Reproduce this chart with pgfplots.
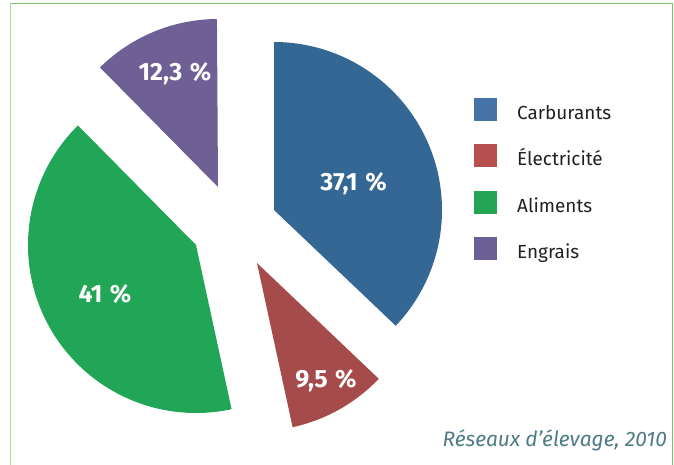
\documentclass[border=0pt]{standalone}
\usepackage{pgfplots}
\pgfplotsset{compat=1.18}
\usepackage{fontspec}
\setmainfont{Fira Sans}
\definecolor{cblue}{HTML}{346794}
\definecolor{cred}{HTML}{A64B4B}
\definecolor{cgreen}{HTML}{21A556}
\definecolor{cpurple}{HTML}{6E5F95}
\definecolor{lblue}{HTML}{4573A7}
\definecolor{lred}{HTML}{B5504F}
\definecolor{lgreen}{HTML}{23A553}
\definecolor{lpurple}{HTML}{6C5F95}
\definecolor{frameA}{HTML}{78C367}
\definecolor{frameB}{HTML}{A8DC92}
\definecolor{srccol}{HTML}{4E7B87}
% slice: color, vertex x, vertex y, cumulative share before, share (in %)
\newcommand{\pieslice}[5]{%
  \addplot[fill=#1, draw=none, domain=90-3.6*(#4+#5):90-3.6*#4, samples=120, variable=\t, forget plot]
    ({#2+168*cos(\t)},{#3+168*sin(\t)}) -- (axis cs:#2,#3) -- cycle;
}
\begin{document}
\begin{tikzpicture}
\begin{axis}[
  scale only axis, width=674bp, height=465bp,
  xmin=0, xmax=674, ymin=0, ymax=465,
  hide axis, clip=false,
  legend style={draw=none, fill=none, inner sep=0pt, at={(axis cs:474,367.5)}, anchor=north west,
    font=\fontsize{19}{23}\selectfont, text=black!87, row sep=21bp, column sep=20bp,
    nodes={inner sep=0pt, text height=14bp, text depth=4bp}},
  legend cell align=left,
  legend image code/.code={\fill[#1] (0bp,-6.5bp) rectangle (23bp,16.5bp);},
]
% values (%): Carburants 37.1, Electricite 9.5, Aliments 41, Engrais 12.3
\pieslice{cblue}{274}{255}{0}{37.1}
\pieslice{cred}{257}{202}{37.1}{9.5}
\pieslice{cgreen}{196}{220}{46.6}{41}
\pieslice{cpurple}{218}{278}{87.6}{12.3}

\addlegendimage{fill=lblue, draw=none}
\addlegendentry{Carburants}
\addlegendimage{fill=lred, draw=none}
\addlegendentry{Électricité}
\addlegendimage{fill=lgreen, draw=none}
\addlegendentry{Aliments}
\addlegendimage{fill=lpurple, draw=none}
\addlegendentry{Engrais}

% frame
\addplot[draw=frameB, line width=1.5bp, forget plot] coordinates {(10.5,0) (10.5,461.5)};
\addplot[draw=frameA, line width=1.5bp, forget plot] coordinates {(10.5,461.5) (672.5,461.5) (672.5,0)};

\tikzset{lab/.style={font=\fontsize{25}{29}\selectfont\bfseries, text=white, inner sep=0pt, text height=17bp, text depth=0pt, anchor=center}}
\node[lab] at (axis cs:353.5,282.7) {37,1\hspace{0.3em}\%};
\node[lab] at (axis cs:326,85.5) {9,5\hspace{0.3em}\%};
\node[lab] at (axis cs:105,170.5) {41\hspace{0.3em}\%};
\node[lab] at (axis cs:175,392.5) {12,3\hspace{0.3em}\%};

\node[font=\fontsize{21}{25}\selectfont\itshape, text=srccol, inner sep=0pt, anchor=base east] at (axis cs:667,18.3) {Réseaux d’élevage, 2010};
\coordinate (bbll) at (axis cs:0,0);
\coordinate (bbur) at (axis cs:674,465);
\end{axis}
\pgfresetboundingbox
\path[use as bounding box] (bbll) rectangle (bbur);
\end{tikzpicture}
\end{document}
